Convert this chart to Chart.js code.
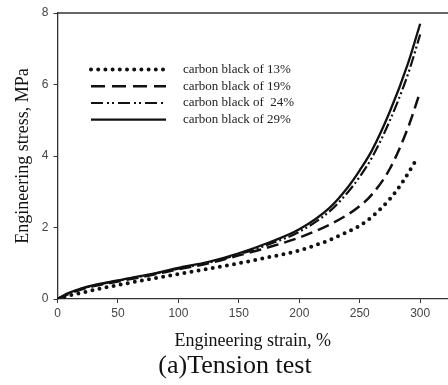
<!DOCTYPE html>
<html>
<head>
<meta charset="utf-8">
<script src="https://cdn.jsdelivr.net/npm/chart.js@4"></script>
<style>
    html, body {
        margin: 0;
        padding: 0;
        background: #fff;
    }

    .figure {
        position: relative;
        width: 448px;
        height: 385px;
    }

    .caption {
        position: absolute;
        left: 0;
        top: 350px;
        width: 470px;
        text-align: center;
        font-family: "Liberation Serif", serif;
        font-size: 26px;
        line-height: 30px;
        color: #111;
    }
</style>
</head>
<body>

<div class="figure">
    <canvas id="tensionChart" width="448" height="385"></canvas>
    <div class="caption">(a)Tension test</div>
</div>

<script>
/* ==========================================
   DATA
========================================== */

const strain = [0, 5, 10, 20, 30, 50, 75, 100, 125, 150, 175, 200, 225, 240, 250, 260, 275, 290, 300];
const strain13 = [0, 5, 10, 20, 30, 50, 75, 100, 125, 150, 175, 200, 225, 240, 250, 260, 275, 285, 296];

const stress13 = [0, 0.05, 0.10, 0.17, 0.25, 0.39, 0.55, 0.70, 0.85, 1.00, 1.17, 1.36, 1.65, 1.88, 2.05, 2.30, 2.80, 3.25, 3.85];
const stress19 = [0, 0.08, 0.15, 0.27, 0.36, 0.49, 0.65, 0.83, 1.00, 1.22, 1.45, 1.72, 2.08, 2.36, 2.60, 2.92, 3.65, 4.80, 5.80];
const stress24 = [0, 0.09, 0.17, 0.29, 0.38, 0.51, 0.67, 0.85, 1.02, 1.25, 1.53, 1.88, 2.45, 2.98, 3.42, 3.95, 5.00, 6.30, 7.40];
const stress29 = [0, 0.10, 0.18, 0.30, 0.39, 0.52, 0.68, 0.87, 1.04, 1.28, 1.58, 1.95, 2.55, 3.12, 3.60, 4.15, 5.25, 6.60, 7.70];

const seriesLabels = [
    "carbon black of 13%",
    "carbon black of 19%",
    "carbon black of  24%",
    "carbon black of 29%"
];

const xTicks = [0, 50, 100, 150, 200, 250, 300];
const yTicks = [0, 2, 4, 6, 8];

/* ==========================================
   HELPERS
========================================== */

function toPoints(xs, ys) {
    return xs.map((x, i) => ({ x: x, y: ys[i] }));
}

const serif = "'Liberation Serif', 'Times New Roman', serif";
const sans = "'Liberation Sans', Arial, sans-serif";
const ink = "#111";

/* ==========================================
   LEGEND + TOP FRAME
========================================== */

const insideLegend = {
    id: "insideLegend",

    afterDraw(chart) {
        const ctx = chart.ctx;
        const area = chart.chartArea;
        const rows = [69.5, 86.3, 103, 119.7];

        ctx.save();

        // top frame line
        ctx.strokeStyle = "#333";
        ctx.lineWidth = 1.3;
        ctx.setLineDash([]);
        ctx.beginPath();
        ctx.moveTo(area.left, area.top);
        ctx.lineTo(area.right, area.top);
        ctx.stroke();

        chart.data.datasets.forEach((ds, i) => {
            const y = rows[i];

            ctx.strokeStyle = ds.borderColor;
            ctx.lineWidth = ds.borderWidth;
            ctx.lineCap = ds.borderCapStyle || "butt";
            ctx.setLineDash(ds.legendDash || ds.borderDash || []);
            ctx.beginPath();
            ctx.moveTo(91, y);
            ctx.lineTo(166, y);
            ctx.stroke();

            ctx.setLineDash([]);
            ctx.fillStyle = "#222";
            ctx.font = "13px " + serif;
            ctx.textAlign = "left";
            ctx.textBaseline = "middle";
            ctx.fillText(seriesLabels[i], 183, y);
        });

        ctx.restore();
    }
};

/* ==========================================
   CHART
========================================== */

new Chart(document.getElementById("tensionChart"), {
    type: "line",

    data: {
        datasets: [
            {
                label: seriesLabels[0],
                data: toPoints(strain13, stress13),
                borderColor: ink,
                borderWidth: 4,
                borderDash: [0, 7.2],
                borderCapStyle: "round",
                legendDash: [0, 7.2]
            },
            {
                label: seriesLabels[1],
                data: toPoints(strain, stress19),
                borderColor: ink,
                borderWidth: 2.5,
                borderDash: [12, 6],
                legendDash: [14, 7]
            },
            {
                label: seriesLabels[2],
                data: toPoints(strain, stress24),
                borderColor: ink,
                borderWidth: 2.2,
                borderDash: [11, 3, 2, 3, 2, 3],
                legendDash: [12, 4, 2, 3, 2, 4]
            },
            {
                label: seriesLabels[3],
                data: toPoints(strain, stress29),
                borderColor: ink,
                borderWidth: 2.3
            }
        ]
    },

    options: {
        responsive: false,
        animation: false,

        layout: {
            padding: { top: 13, right: 0, bottom: 33, left: 0 }
        },

        elements: {
            point: { radius: 0 },
            line: { cubicInterpolationMode: "monotone" }
        },

        plugins: {
            legend: { display: false },
            tooltip: { enabled: false }
        },

        scales: {
            x: {
                type: "linear",
                min: 0,
                max: 323,
                afterFit(scale) {
                    scale.height = 53;
                },
                afterBuildTicks(scale) {
                    scale.ticks = xTicks.map(v => ({ value: v }));
                },
                border: { display: true, color: "#333", width: 1.3 },
                grid: {
                    drawOnChartArea: false,
                    drawTicks: true,
                    tickLength: 4,
                    color: "#333"
                },
                ticks: {
                    padding: 3,
                    color: "#444",
                    font: { family: sans, size: 12 }
                },
                title: {
                    display: true,
                    text: "Engineering strain, %",
                    color: ink,
                    font: { family: serif, size: 18 },
                    padding: { top: 0, bottom: 0 }
                }
            },

            y: {
                min: 0,
                max: 8,
                afterFit(scale) {
                    scale.width = 57.5;
                },
                afterBuildTicks(scale) {
                    scale.ticks = yTicks.map(v => ({ value: v }));
                },
                border: { display: true, color: "#333", width: 1.3 },
                grid: {
                    drawOnChartArea: false,
                    drawTicks: true,
                    tickLength: 4,
                    color: "#333"
                },
                ticks: {
                    padding: 5,
                    color: "#444",
                    font: { family: sans, size: 12 }
                },
                title: {
                    display: true,
                    text: "Engineering stress, MPa",
                    color: ink,
                    font: { family: serif, size: 18 },
                    padding: { top: 12, bottom: 0 }
                }
            }
        }
    },

    plugins: [insideLegend]
});
</script>

</body>
</html>
